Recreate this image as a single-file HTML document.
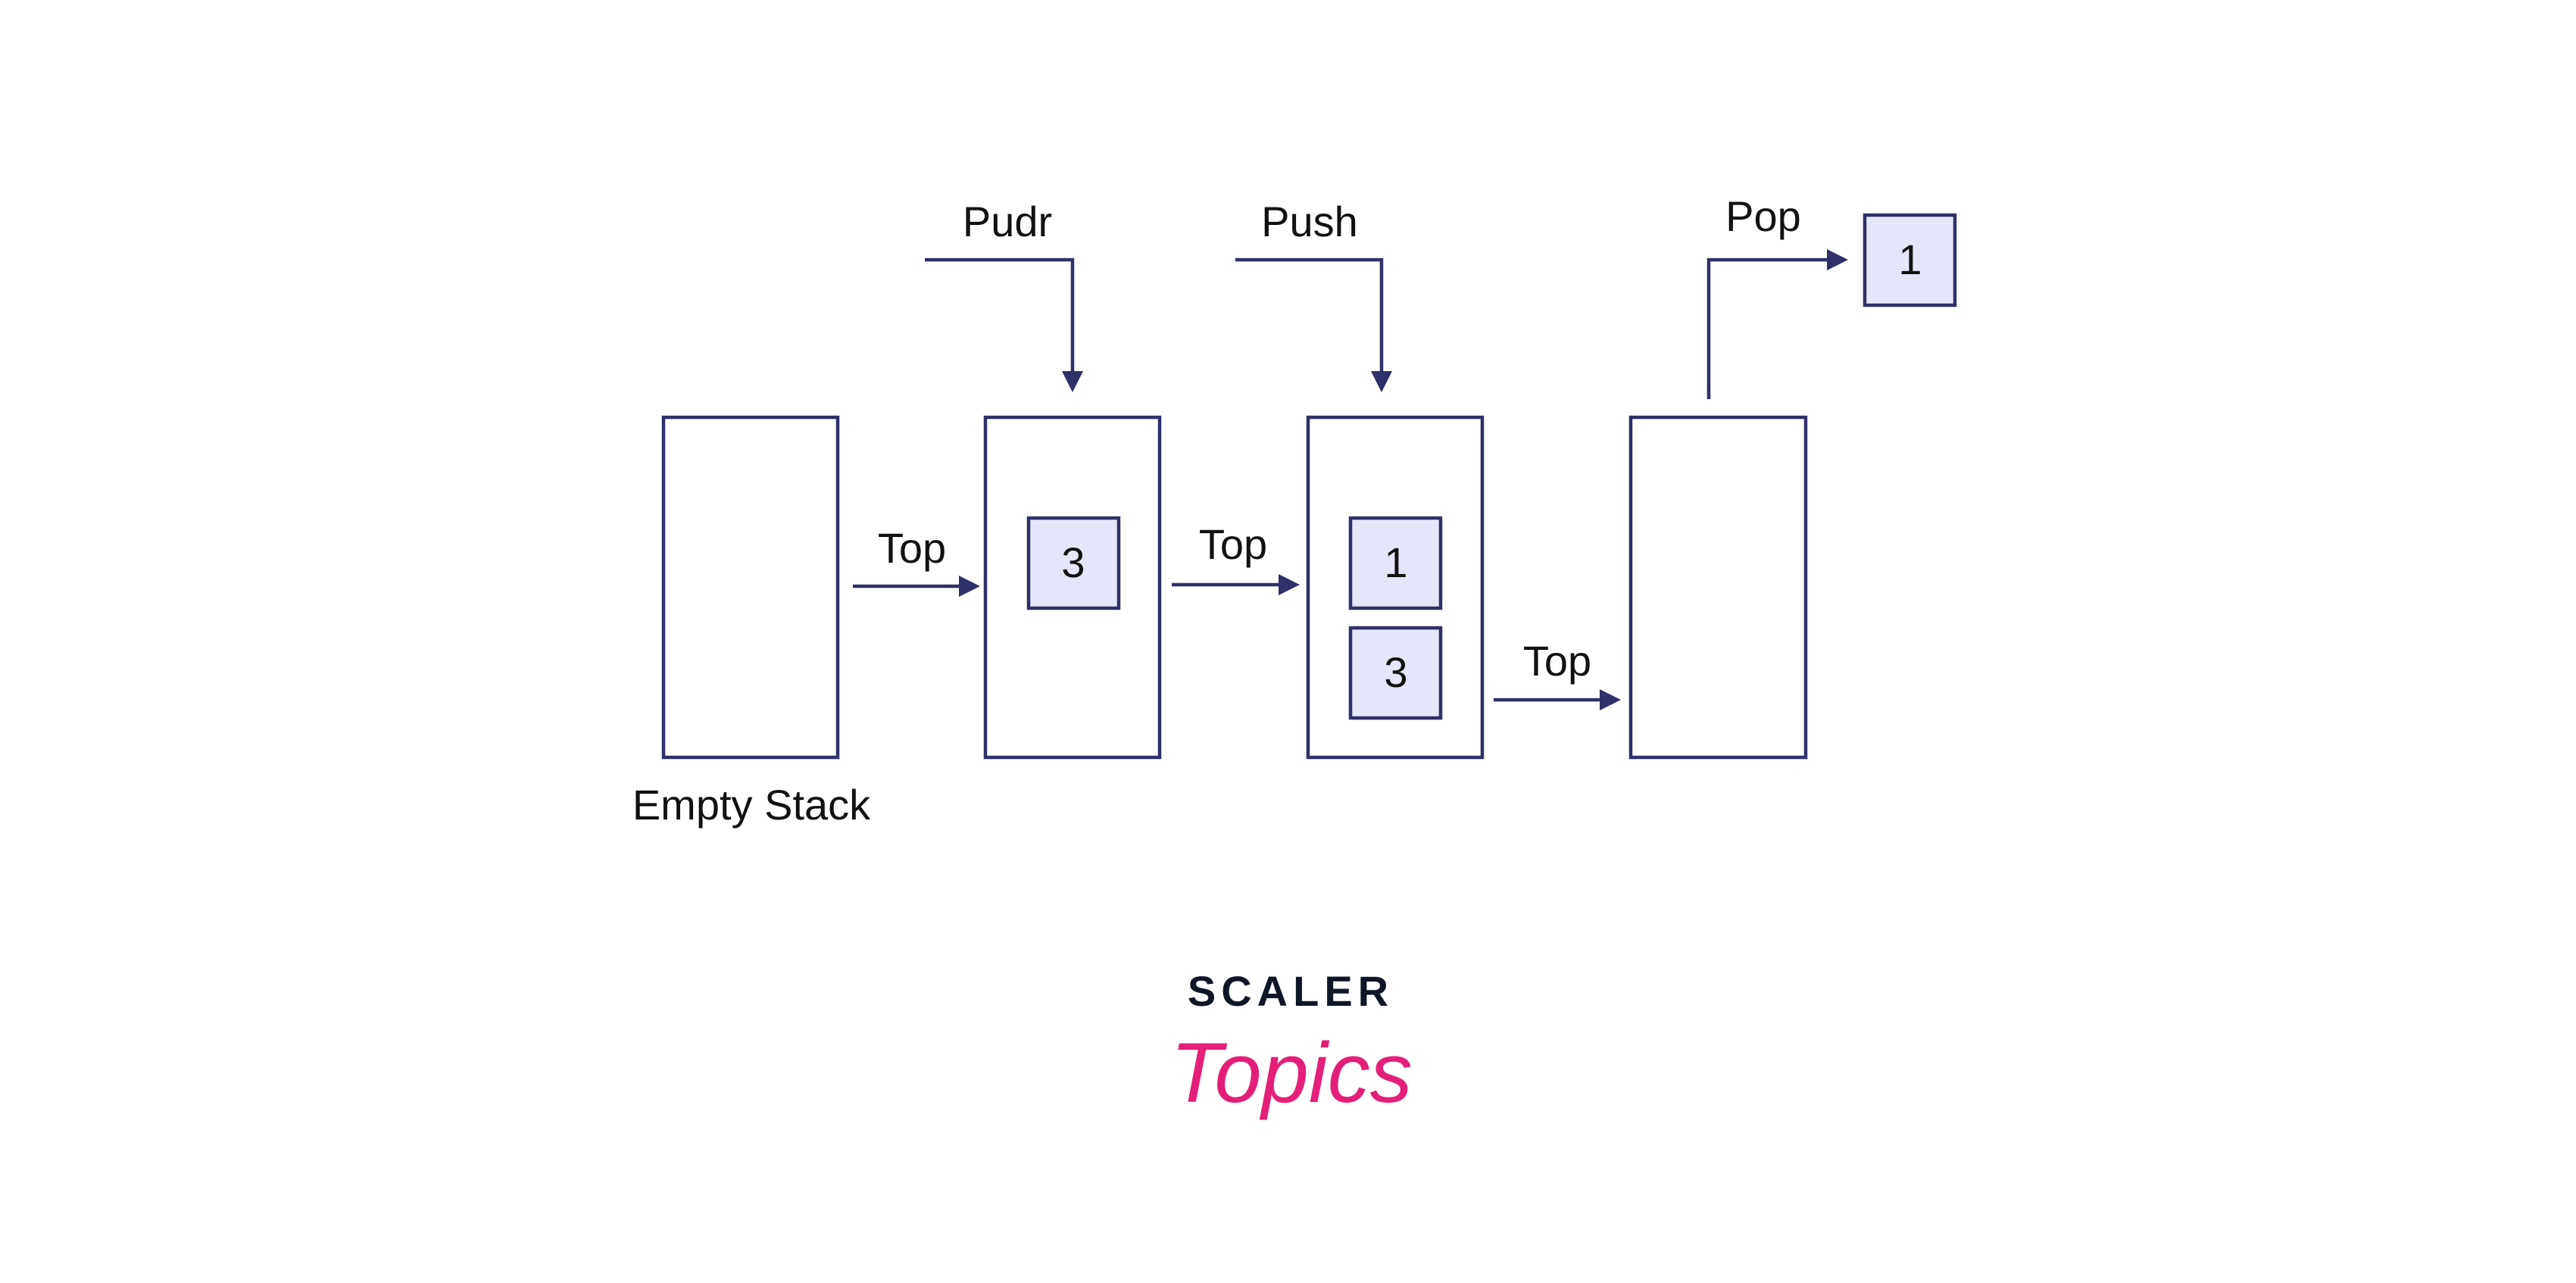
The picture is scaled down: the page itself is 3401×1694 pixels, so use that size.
<!DOCTYPE html>
<html><head><meta charset="utf-8"><style>
html,body{margin:0;padding:0;background:#fff;}
svg{display:block;}
text{font-family:"Liberation Sans",sans-serif;}
</style></head><body>
<svg width="3401" height="1694" viewBox="0 0 3401 1694" xmlns="http://www.w3.org/2000/svg">
<g fill="none" stroke="#2f3168" stroke-width="4.5">
<rect x="876" y="551" width="230" height="449"/>
<rect x="1301" y="551" width="230" height="449"/>
<rect x="1727" y="551" width="230" height="449"/>
<rect x="2153" y="551" width="231" height="449"/>
</g>
<g fill="#e6e6fa" stroke="#2f3168" stroke-width="4.5">
<rect x="1358" y="684" width="119" height="119"/>
<rect x="1783" y="684" width="119" height="119"/>
<rect x="1783" y="829" width="119" height="119"/>
<rect x="2462" y="284" width="119" height="119"/>
</g>
<g fill="none" stroke="#2f3168" stroke-width="4.5">
<line x1="1126" y1="774" x2="1270" y2="774"/>
<line x1="1547" y1="772" x2="1692" y2="772"/>
<line x1="1972" y1="924" x2="2116" y2="924"/>
<polyline points="1221,343 1416,343 1416,494"/>
<polyline points="1631,343 1824,343 1824,494"/>
<polyline points="2256,527 2256,343 2416,343"/>
</g>
<g fill="#2f3168">
<polygon points="1294,774 1266,760 1266,788"/>
<polygon points="1716,772 1688,758 1688,786"/>
<polygon points="2140,924 2112,910 2112,938"/>
<polygon points="1416,518 1402,490 1430,490"/>
<polygon points="1824,518 1810,490 1838,490"/>
<polygon points="2440,343 2412,329 2412,357"/>
</g>
<g font-size="56" fill="#111" text-anchor="middle">
<text x="1330" y="312">Pudr</text>
<text x="1729" y="312">Push</text>
<text x="2328" y="305">Pop</text>
<text x="1204" y="743">Top</text>
<text x="1628" y="738">Top</text>
<text x="2056" y="892">Top</text>
<text x="992" y="1082">Empty Stack</text>
<text x="1417" y="762">3</text>
<text x="1843" y="762">1</text>
<text x="1843" y="907">3</text>
<text x="2522" y="362">1</text>
</g>
<text x="1704" y="1328" font-size="56" font-weight="bold" fill="#0f1626" text-anchor="middle" letter-spacing="7">SCALER</text>
<text x="1705" y="1455" font-size="112" font-style="italic" fill="#e41f77" text-anchor="middle" font-family="Liberation Serif, serif">Topics</text>
</svg>
</body></html>
